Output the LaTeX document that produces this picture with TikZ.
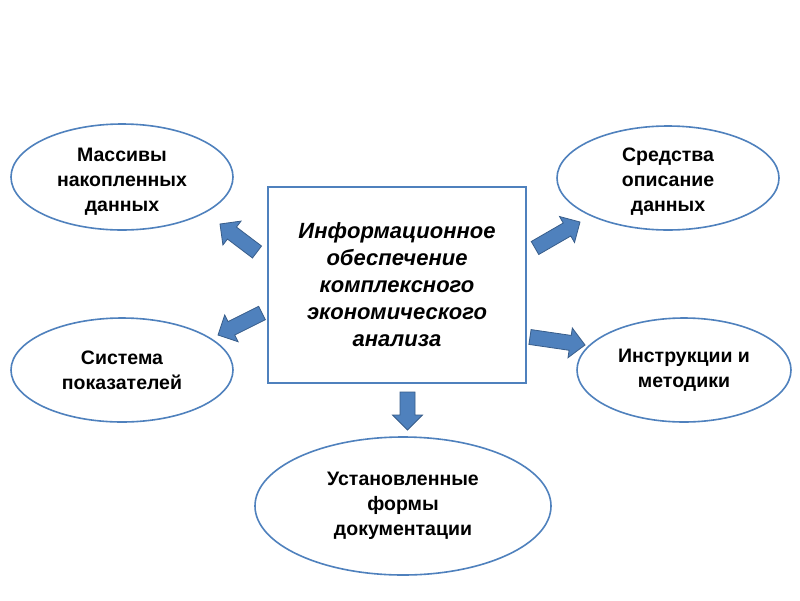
\documentclass[tikz,border=0pt]{standalone}
\usepackage{fontspec}
\setmainfont{Liberation Sans}
\usetikzlibrary{shapes.geometric,calc}
\definecolor{edgeblue}{RGB}{79,129,189}
\definecolor{arrowfill}{RGB}{79,129,189}
\definecolor{arrowedge}{RGB}{56,93,138}
\tikzset{
  oval/.style={ellipse, draw=edgeblue, line width=1.6pt, inner sep=0pt, align=center,
    font=\fontsize{19.5}{25}\selectfont\bfseries},
  ovaltext/.style={inner sep=0pt, align=center, font=\fontsize{19.5}{25}\selectfont\bfseries},
  mainbox/.style={rectangle, draw=edgeblue, line width=1.6pt, inner sep=0pt, align=center,
    minimum width=258pt, minimum height=196pt,
    font=\fontsize{22}{27}\selectfont\bfseries\itshape},
  barrow/.style={fill=arrowfill, draw=arrowedge, line width=0.8pt, line join=miter}
}
\newcommand\blockarrow[3]{%
  \coordinate (#1b) at ($(#3)!15pt!(#2)$);
  \filldraw[barrow] ($(#2)!7.5pt!90:(#3)$) -- ($(#1b)!7.5pt!90:(#3)$) -- ($(#1b)!15pt!90:(#3)$)
    -- (#3) -- ($(#1b)!15pt!-90:(#3)$) -- ($(#1b)!7.5pt!-90:(#3)$) -- ($(#2)!7.5pt!-90:(#3)$) -- cycle;}
\begin{document}
\begin{tikzpicture}[x=1pt,y=-1pt]
\useasboundingbox[fill=white] (0,0) rectangle (800,600);
\node[mainbox] (box) at (397,285) {Информационное\\обеспечение\\комплексного\\экономического\\анализа};
\node[oval, minimum width=222pt, minimum height=106pt] (e1) at (122,177) {};
\node[ovaltext] (e1t) at (122,182) {Массивы\\накопленных\\данных};
\node[oval, minimum width=222pt, minimum height=104pt] (e2) at (668,178) {};
\node[ovaltext] (e2t) at (668,182) {Средства\\описание\\данных};
\node[oval, minimum width=222pt, minimum height=104pt] (e3) at (122,370) {Система\\показателей};
\node[oval, minimum width=214pt, minimum height=104pt] (e4) at (684,370) {Инструкции и\\методики};
\node[oval, minimum width=296pt, minimum height=138pt] (e5) at (403,506) {Установленные\\формы\\документации};
\coordinate (t1) at (257,252); \coordinate (h1) at (220,224);
\coordinate (t2) at (535,248); \coordinate (h2) at (580,222);
\coordinate (t3) at (262,313); \coordinate (h3) at (218,335);
\coordinate (t4) at (530,337); \coordinate (h4) at (585,345);
\coordinate (t5) at (407.5,392); \coordinate (h5) at (407.5,430);
\blockarrow{a1}{t1}{h1}
\blockarrow{a2}{t2}{h2}
\blockarrow{a3}{t3}{h3}
\blockarrow{a4}{t4}{h4}
\blockarrow{a5}{t5}{h5}
\end{tikzpicture}
\end{document}
